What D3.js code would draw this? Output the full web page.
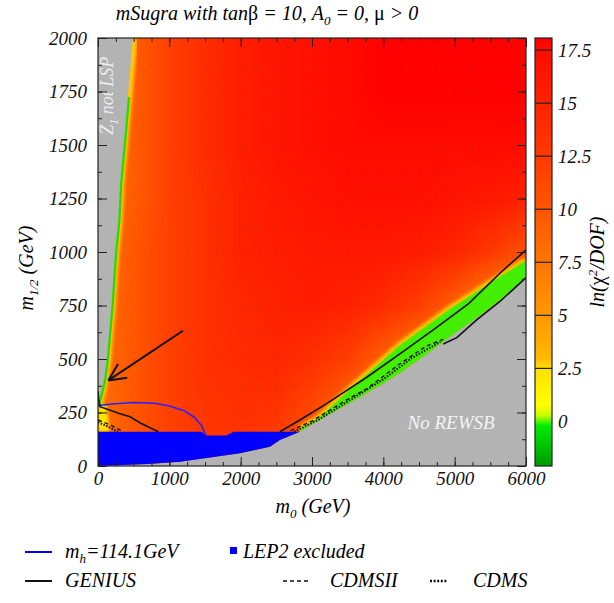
<!DOCTYPE html>
<html>
<head>
<meta charset="utf-8">
<script src="https://cdn.jsdelivr.net/npm/d3@7"></script>
<style>
body { margin: 0; background: #fff; }
text { font-family: "Liberation Serif", "DejaVu Serif", serif; font-style: italic; }
</style>
</head>
<body>
<svg id="chart" width="614" height="603"></svg>
<script>
// ln(chi^2/DOF), rows = m1/2, cols = m0
const m0Grid = [0, 500, 1000, 1500, 2000, 2500, 3000, 3500, 4000, 4500, 5000, 5500, 6000]
const mHalfGrid = [2000, 1750, 1500, 1250, 1000, 750, 500, 250, 0]
const lnChi = [
    [8, 9.5, 12, 14, 15.5, 16.5, 17, 17.5, 18, 18, 18, 18, 18],
    [8, 9.5, 12, 14, 15.5, 16.5, 17, 17.5, 18, 18, 18, 18, 18],
    [8, 9.5, 12, 14, 15.5, 16.5, 17, 17.5, 17.5, 17.5, 17.5, 17.5, 17.5],
    [8, 9.5, 12, 13.5, 15, 16, 16.5, 17, 17, 17, 16.5, 16, 15],
    [8, 10, 12, 13.5, 15, 15.5, 16, 16, 16, 15.5, 14.5, 12.5, 10],
    [8, 10, 12, 13.5, 14.5, 15, 15.5, 15, 14, 12, 9, 6, 4],
    [8, 10, 12, 13.5, 14, 14.5, 13.5, 12, 9, 6, 4, 3, 3],
    [8, 10, 12, 13, 13.5, 13, 11, 8, 5, 3, 3, 3, 3],
    [8, 10, 12, 12.5, 12.5, 11, 8, 5, 3, 3, 3, 3, 3]
]

// region boundaries (m0, m1/2)
const z1Edge = [[0, 285], [42, 341], [84, 402], [122, 495], [192, 762], [238, 995], [285, 1150], [310, 1320], [360, 1500], [420, 1724], [490, 2000]]
const rewsbEdge = [[0, 0], [700, 9], [1150, 20], [1990, 60], [2410, 90], [2550, 122], [2830, 160], [3200, 232], [3535, 294], [4000, 385], [4235, 435], [4600, 520], [4937, 604], [5300, 690], [5638, 776], [6000, 875]]
const greenTop = [[2830, 172], [3100, 225], [3535, 360], [4235, 565], [4937, 735], [5638, 885], [6000, 960]]
const lep2Top = [[0, 160], [1450, 160], [1520, 142], [1800, 142], [1900, 160], [2830, 160]]
const lowPatch = [[0, 160], [160, 160], [140, 230], [110, 285], [0, 285]]

// contours
const higgsLine = [[0, 283], [200, 290], [500, 297], [800, 293], [1000, 280], [1200, 260], [1350, 228], [1450, 190], [1510, 145]]
const geniusLeft = [[0, 350], [10, 310], [28, 277], [300, 245], [449, 230], [600, 200], [846, 160]]
const geniusRight = [[2550, 160], [2830, 215], [3200, 290], [3773, 416], [4300, 540], [4700, 636], [5200, 760], [5638, 902], [6000, 1010]]
const geniusLow = [[4840, 570], [5030, 600], [5300, 680], [5638, 770], [6000, 880]]
const cdmsiiLeft = [[0, 215], [200, 188], [350, 160]]
const cdmsiiRight = [[2700, 165], [3000, 210], [3500, 312], [3773, 362], [4200, 470], [4600, 560], [4840, 592]]
const cdmsLeft = [[0, 205], [150, 182], [280, 160]]
const cdmsRight = [[2750, 160], [3100, 218], [3600, 322], [4000, 405], [4400, 505], [4800, 580]]

const arrowTail = [1190, 632]
const arrowTip = [145, 400]

// axis ticks
const xTicks = [0, 1000, 2000, 3000, 4000, 5000, 6000]
const xMinor = d3.range(0, 6001, 250)
const yTicks = [0, 250, 500, 750, 1000, 1250, 1500, 1750, 2000]
const yMinor = d3.range(0, 2001, 125)
const cbTicks = [0, 2.5, 5, 7.5, 10, 12.5, 15, 17.5]
const cbStops = [-2.1, -0.2, 0.3, 0.8, 2.5, 3, 5, 7.5, 10, 12.5, 15, 17.5, 18.1]
const cbColors = ["#009900", "#00ee00", "#ccff00", "#ffff00", "#ffe000", "#ffb800", "#ff9800", "#ff7600", "#ff5600", "#ff3a00", "#ff2200", "#ff0c00", "#ff0000"]

const svg = d3.select("#chart")
const x = d3.scaleLinear().domain([0, 6000]).range([98, 526])
const y = d3.scaleLinear().domain([0, 2000]).range([466, 38])
const color = d3.scaleLinear().domain(cbStops).range(cbColors).clamp(true)
const cy = d3.scaleLinear().domain([-2.1, 18.07]).range([466, 38])

const defs = svg.append("defs")
defs.append("clipPath").attr("id", "plotclip")
    .append("rect").attr("x", 98).attr("y", 38).attr("width", 428).attr("height", 428)
defs.append("filter").attr("id", "soft")
    .append("feGaussianBlur").attr("stdDeviation", 1.5)

const plot = svg.append("g").attr("clip-path", "url(#plotclip)")

// heat map: one pixel per grid value, smoothed by the browser when stretched
const cv = document.createElement("canvas")
cv.width = m0Grid.length
cv.height = mHalfGrid.length
const ctx = cv.getContext("2d")
lnChi.forEach((row, i) => row.forEach((v, j) => {
    ctx.fillStyle = color(v)
    ctx.fillRect(j, i, 1, 1)
}))
const hw = 250, hh = 125
plot.append("image")
    .attr("href", cv.toDataURL())
    .attr("x", x(m0Grid[0] - hw))
    .attr("y", y(mHalfGrid[0] + hh))
    .attr("width", x(m0Grid[m0Grid.length - 1] + hw) - x(m0Grid[0] - hw))
    .attr("height", y(mHalfGrid[mHalfGrid.length - 1] - hh) - y(mHalfGrid[0] + hh))
    .attr("preserveAspectRatio", "none")
    .style("image-rendering", "auto")

// dotted grid
const dots = plot.append("g").attr("fill", "#333").attr("opacity", 0.4)
xMinor.forEach(a => yMinor.forEach(b => {
    dots.append("rect").attr("x", x(a) - 0.5).attr("y", y(b) - 0.5).attr("width", 1).attr("height", 1)
}))

const line = d3.line().x(d => x(d[0])).y(d => y(d[1]))
const poly = pts => line(pts) + "Z"

// yellow fringe and green band along the REWSB edge
plot.append("path").attr("d", line(greenTop))
    .attr("fill", "none").attr("stroke", "#ffc000").attr("stroke-width", 7)
    .attr("filter", "url(#soft)")
plot.append("path")
    .attr("d", poly(greenTop.concat(rewsbEdge.filter(p => p[0] >= 2830).reverse())))
    .attr("fill", "#44ee00")

// strip along the Z1 edge
plot.append("path").attr("d", line(z1Edge))
    .attr("fill", "none").attr("stroke", "#ffc800").attr("stroke-width", 9)
    .attr("filter", "url(#soft)")
plot.append("path").attr("d", line(z1Edge.filter(p => p[1] < 1750)))
    .attr("fill", "none").attr("stroke", "#22dd00").attr("stroke-width", 4.5)
plot.append("path").attr("d", poly(lowPatch))
    .attr("fill", "#ffe400").attr("filter", "url(#soft)")

// excluded regions
plot.append("path").attr("d", poly(z1Edge.concat([[0, 2000]]))).attr("fill", "#b3b3b3")
plot.append("path").attr("d", poly(rewsbEdge.concat([[6000, 0]]))).attr("fill", "#b3b3b3")
plot.append("path")
    .attr("d", poly(lep2Top.concat(rewsbEdge.filter(p => p[0] <= 2830).reverse())))
    .attr("fill", "#0000ff")

// contour lines
const drawLine = (pts, stroke, dash, w) => plot.append("path").attr("d", line(pts))
    .attr("fill", "none").attr("stroke", stroke).attr("stroke-width", w)
    .attr("stroke-dasharray", dash)
drawLine(higgsLine, "#2222ff", null, 1.6)
drawLine(geniusLeft, "#111", null, 1.6)
drawLine(geniusRight, "#111", null, 1.6)
drawLine(geniusLow, "#111", null, 1.6)
drawLine(cdmsiiLeft, "#111", "4,3", 1.4)
drawLine(cdmsiiRight, "#111", "4,3", 1.4)
drawLine(cdmsLeft, "#111", "1.5,1.5", 2)
drawLine(cdmsRight, "#111", "1.5,1.5", 2)

// arrow
const tx = x(arrowTip[0]), ty = y(arrowTip[1])
const ang = Math.atan2(y(arrowTail[1]) - ty, x(arrowTail[0]) - tx)
plot.append("line").attr("x1", x(arrowTail[0])).attr("y1", y(arrowTail[1]))
    .attr("x2", tx).attr("y2", ty).attr("stroke", "#111").attr("stroke-width", 2)
;[-0.45, 0.45].forEach(da => {
    plot.append("line").attr("x1", tx).attr("y1", ty)
        .attr("x2", tx + 19 * Math.cos(ang + da)).attr("y2", ty + 19 * Math.sin(ang + da))
        .attr("stroke", "#111").attr("stroke-width", 2)
})

// region labels
plot.append("text").attr("x", x(4950)).attr("y", y(175))
    .attr("text-anchor", "middle").attr("fill", "#f4f4f4").style("font-size", "19px")
    .text("No REWSB")
const zl = plot.append("text")
    .attr("transform", `translate(${x(215)},${y(1730)}) rotate(-90)`)
    .attr("text-anchor", "middle").attr("fill", "#eeeeee").style("font-size", "18px")
zl.append("tspan").text("Z\u0303")
zl.append("tspan").attr("dy", 5).style("font-size", "12px").text("1")
zl.append("tspan").attr("dy", -5).text(" not LSP")

// axes
const axisFont = g => g.selectAll("text").attr("font-family", null).style("font-size", "19px").attr("fill", "#111")
svg.append("g").attr("transform", "translate(0,466)")
    .call(d3.axisBottom(x).tickValues(xTicks).tickSizeInner(-9).tickSizeOuter(0).tickPadding(6).tickFormat(d3.format("d")))
    .call(g => g.select(".domain").remove()).call(axisFont)
svg.append("g").attr("transform", "translate(0,466)")
    .call(d3.axisBottom(x).tickValues(xMinor).tickSizeInner(-4).tickSizeOuter(0).tickFormat(""))
    .call(g => g.select(".domain").remove())
svg.append("g").attr("transform", "translate(0,38)")
    .call(d3.axisTop(x).tickValues(xTicks).tickSizeInner(-9).tickSizeOuter(0).tickFormat(""))
    .call(g => g.select(".domain").remove())
svg.append("g").attr("transform", "translate(0,38)")
    .call(d3.axisTop(x).tickValues(xMinor).tickSizeInner(-4).tickSizeOuter(0).tickFormat(""))
    .call(g => g.select(".domain").remove())
svg.append("g").attr("transform", "translate(98,0)")
    .call(d3.axisLeft(y).tickValues(yTicks).tickSizeInner(-9).tickSizeOuter(0).tickPadding(11).tickFormat(d3.format("d")))
    .call(g => g.select(".domain").remove()).call(axisFont)
svg.append("g").attr("transform", "translate(98,0)")
    .call(d3.axisLeft(y).tickValues(yMinor).tickSizeInner(-4).tickSizeOuter(0).tickFormat(""))
    .call(g => g.select(".domain").remove())
svg.append("g").attr("transform", "translate(526,0)")
    .call(d3.axisRight(y).tickValues(yTicks).tickSizeInner(-9).tickSizeOuter(0).tickFormat(""))
    .call(g => g.select(".domain").remove())
svg.append("g").attr("transform", "translate(526,0)")
    .call(d3.axisRight(y).tickValues(yMinor).tickSizeInner(-4).tickSizeOuter(0).tickFormat(""))
    .call(g => g.select(".domain").remove())
svg.selectAll(".tick line").attr("stroke", "#222")

svg.append("rect").attr("x", 98).attr("y", 38).attr("width", 428).attr("height", 428)
    .attr("fill", "none").attr("stroke", "#222").attr("stroke-width", 1.2)

// axis titles
const xt = svg.append("text").attr("x", 313).attr("y", 513).attr("text-anchor", "middle").style("font-size", "20px")
xt.append("tspan").text("m")
xt.append("tspan").attr("dy", 5).style("font-size", "13px").text("0")
xt.append("tspan").attr("dy", -5).text(" (GeV)")
const yt = svg.append("text").attr("transform", "translate(33,268) rotate(-90)").attr("text-anchor", "middle").style("font-size", "20px")
yt.append("tspan").text("m")
yt.append("tspan").attr("dy", 5).style("font-size", "13px").text("1/2")
yt.append("tspan").attr("dy", -5).text(" (GeV)")

// title
const tt = svg.append("text").attr("x", 267).attr("y", 20).attr("text-anchor", "middle").style("font-size", "20px")
tt.append("tspan").text("mSugra with tan")
tt.append("tspan").style("font-style", "normal").text("\u03b2")
tt.append("tspan").text(" = 10, A")
tt.append("tspan").attr("dy", 5).style("font-size", "13px").text("0")
tt.append("tspan").attr("dy", -5).text(" = 0, ")
tt.append("tspan").style("font-style", "normal").text("\u03bc")
tt.append("tspan").text(" > 0")

// colour bar
const grad = defs.append("linearGradient").attr("id", "cbgrad")
    .attr("x1", 0).attr("y1", 1).attr("x2", 0).attr("y2", 0)
cbStops.forEach((s, i) => {
    grad.append("stop").attr("offset", (cy(s) - 466) / (38 - 466)).attr("stop-color", cbColors[i])
})
svg.append("rect").attr("x", 535).attr("y", 38).attr("width", 17).attr("height", 428)
    .attr("fill", "url(#cbgrad)").attr("stroke", "#222").attr("stroke-width", 1.2)
svg.append("g").selectAll("line").data(cbTicks.slice(1)).join("line")
    .attr("x1", 535).attr("x2", 552).attr("y1", d => cy(d)).attr("y2", d => cy(d))
    .attr("stroke", "#222").attr("stroke-width", 1.2)
svg.append("g").selectAll("text").data(cbTicks).join("text")
    .attr("x", 558).attr("y", d => cy(d)).attr("dy", "0.35em")
    .style("font-size", "19px").attr("fill", "#111")
    .text(d => d)
const cl = svg.append("text").attr("transform", "translate(604,262) rotate(-90)").attr("text-anchor", "middle").style("font-size", "20px")
cl.append("tspan").text("ln(")
cl.append("tspan").style("font-style", "normal").text("\u03c7")
cl.append("tspan").attr("dy", -7).style("font-size", "13px").text("2")
cl.append("tspan").attr("dy", 7).text("/DOF)")

// legend
const lg = svg.append("g")
lg.append("line").attr("x1", 25).attr("x2", 52).attr("y1", 552).attr("y2", 552).attr("stroke", "#0000ff").attr("stroke-width", 2)
const l1 = lg.append("text").attr("x", 65).attr("y", 558).style("font-size", "20px")
l1.append("tspan").text("m")
l1.append("tspan").attr("dy", 5).style("font-size", "13px").text("h")
l1.append("tspan").attr("dy", -5).text("=114.1GeV")
lg.append("rect").attr("x", 230).attr("y", 547).attr("width", 7).attr("height", 7).attr("fill", "#0000ff")
lg.append("text").attr("x", 243).attr("y", 558).style("font-size", "20px").text("LEP2 excluded")
lg.append("line").attr("x1", 25).attr("x2", 52).attr("y1", 581).attr("y2", 581).attr("stroke", "#111").attr("stroke-width", 2)
lg.append("text").attr("x", 65).attr("y", 587).style("font-size", "20px").text("GENIUS")
lg.append("line").attr("x1", 283).attr("x2", 310).attr("y1", 581).attr("y2", 581).attr("stroke", "#111").attr("stroke-width", 1.5).attr("stroke-dasharray", "4,3")
lg.append("text").attr("x", 330).attr("y", 587).style("font-size", "20px").text("CDMSII")
lg.append("line").attr("x1", 430).attr("x2", 448).attr("y1", 581).attr("y2", 581).attr("stroke", "#111").attr("stroke-width", 2.6).attr("stroke-dasharray", "2,1.6")
lg.append("text").attr("x", 473).attr("y", 587).style("font-size", "20px").text("CDMS")
</script>
</body>
</html>
